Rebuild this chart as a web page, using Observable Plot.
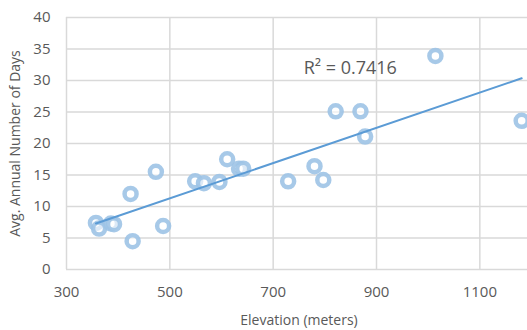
<!DOCTYPE html>
<html>
<head>
<meta charset="utf-8">
<script src="https://cdn.jsdelivr.net/npm/d3@7"></script>
<script src="https://cdn.jsdelivr.net/npm/@observablehq/plot@0.6"></script>
<style>
  html, body { margin: 0; padding: 0; background: #fff; }
  #chart svg { display: block; }
</style>
</head>
<body>
<div id="chart"></div>
<script>
// Elevation (meters) of each station
const elevation = [357, 363, 386, 392, 424, 428, 473, 487, 549, 566, 596, 611, 634, 642, 729, 780, 797, 821, 869, 878, 1014, 1181];
// Average annual number of days
const days = [7.4, 6.5, 7.3, 7.2, 12.0, 4.5, 15.5, 6.9, 14.0, 13.7, 13.9, 17.5, 16.0, 16.0, 14.0, 16.4, 14.2, 25.1, 25.1, 21.1, 33.9, 23.6];
const xTicks = [300, 500, 700, 900, 1100];
const yTicks = [0, 5, 10, 15, 20, 25, 30, 35, 40];
const r2Label = "R² = 0.7416";
const r2Pos = {x: 759, y: 32};

const data = elevation.map((e, i) => ({elevation: e, days: days[i]}));

const grey = "#595959";
const chart = Plot.plot({
  width: 527,
  height: 330,
  marginLeft: 66,
  marginTop: 17,
  marginBottom: 61,
  marginRight: -4,
  style: {fontFamily: "'Open Sans', sans-serif", fontSize: "15px", color: grey, background: "white"},
  x: {domain: [300, 1200], ticks: xTicks},
  y: {domain: [0, 40], ticks: yTicks},
  marks: [
    Plot.gridX(xTicks, {stroke: "#d9d9d9", strokeOpacity: 1, strokeWidth: 1.5}),
    Plot.gridY(yTicks, {stroke: "#d9d9d9", strokeOpacity: 1, strokeWidth: 1.5}),
    Plot.axisX(xTicks, {tickSize: 0, tickPadding: 17, fill: grey, fontSize: 15, tickFormat: d => String(d),
      label: "Elevation (meters)", labelAnchor: "center", labelArrow: "none", labelOffset: 55}),
    Plot.axisY(yTicks, {tickSize: 0, tickPadding: 16, fill: grey, fontSize: 15,
      label: "Avg. Annual Number of Days", labelAnchor: "center", labelArrow: "none", labelOffset: 56}),
    Plot.dot(data, {x: "elevation", y: "days", r: 6, stroke: "#9dc3e6", strokeWidth: 4.5, fill: "white", fillOpacity: 0.6, strokeOpacity: 0.9}),
    Plot.linearRegressionY(data, {x: "elevation", y: "days", stroke: "#5b9bd5", strokeWidth: 2, ci: 0}),
    Plot.text([r2Label], {x: () => r2Pos.x, y: () => r2Pos.y, textAnchor: "start", fontSize: 18, fill: grey})
  ]
});
chart.querySelectorAll("[aria-label='x-axis label'] text, [aria-label='y-axis label'] text").forEach(t => t.style.fontSize = "14px");
document.getElementById("chart").appendChild(chart);
</script>
</body>
</html>
